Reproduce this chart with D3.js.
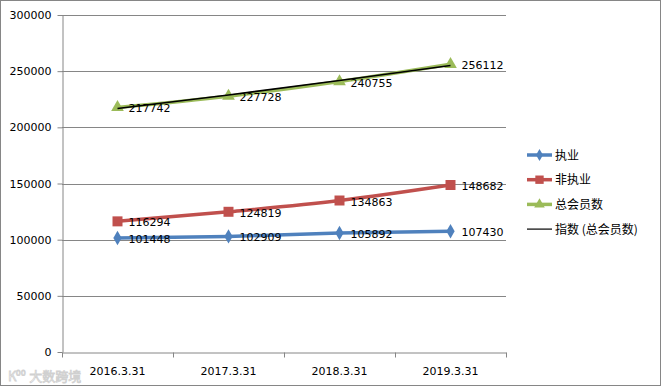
<!DOCTYPE html>
<html><head><meta charset="utf-8">
<script src="https://cdn.jsdelivr.net/npm/d3@7"></script>
<style>body{margin:0;background:#fff}svg{display:block}</style>
</head><body>
<script>
const categories = ["2016.3.31","2017.3.31","2018.3.31","2019.3.31"];
const practicing = [101448,102909,105892,107430];
const nonPracticing = [116294,124819,134863,148682];
const totalMembers = [217742,227728,240755,256112];
const yTicks = [0,50000,100000,150000,200000,250000,300000];
const seriesNames = ["执业","非执业","总会员数","指数 (总会员数)"];

const W=661,H=386;
const svg=d3.select("body").append("svg").attr("width",W).attr("height",H);
const font="DejaVu Sans, Verdana, sans-serif";
svg.append("rect").attr("x",0.5).attr("y",0.5).attr("width",W-1).attr("height",H-1).attr("fill","#fff").attr("stroke","#868686");

const x=d3.scaleBand().domain(categories).range([62,506]);
const y=d3.scaleLinear().domain([0,300000]).range([352,15]);
const cx=d=>x(d)+x.bandwidth()/2;

// gridlines
svg.append("g").selectAll("line").data(yTicks.slice(1)).join("line")
 .attr("x1",62).attr("x2",506).attr("y1",d=>Math.round(y(d))+0.5).attr("y2",d=>Math.round(y(d))+0.5)
 .attr("stroke","#868686").attr("stroke-width",1);

const ya=svg.append("g").attr("transform","translate(62.5,0)")
 .call(d3.axisLeft(y).tickValues(yTicks).tickSize(5).tickSizeOuter(0).tickFormat(d3.format("d")));
ya.selectAll("text").attr("font-family",font).attr("font-size",11).attr("fill","#000").attr("x",-11);
ya.selectAll("line,path").attr("stroke","#868686");

const xa=svg.append("g").attr("transform","translate(0,352.5)")
 .call(d3.axisBottom(x).tickSize(0).tickSizeOuter(0));
xa.selectAll("text").attr("font-family",font).attr("font-size",11).attr("fill","#000").attr("dy","0").attr("y",22);
xa.select("path").attr("stroke","#868686");
xa.append("g").selectAll("line").data(x.domain().map(d=>x(d)).concat([506])).join("line")
 .attr("x1",d=>Math.round(d)+0.5).attr("x2",d=>Math.round(d)+0.5).attr("y1",0).attr("y2",5).attr("stroke","#868686");

const line=d3.line().x((d,i)=>cx(categories[i])).y(d=>y(d)).curve(d3.curveMonotoneX);

const series=[
 {name:seriesNames[0],vals:practicing,color:"#4F81BD",sym:d3.symbolDiamond,size:60},
 {name:seriesNames[1],vals:nonPracticing,color:"#C0504D",sym:d3.symbolSquare,size:100},
 {name:seriesNames[2],vals:totalMembers,color:"#9BBB59",sym:d3.symbolTriangle,size:70}
];

series.forEach(s=>{
 svg.append("path").attr("d",line(s.vals)).attr("fill","none").attr("stroke",s.color).attr("stroke-width",3.5);
});

// exponential trendline fitted to total members
const xs=totalMembers.map((d,i)=>i+1);
const ly=totalMembers.map(Math.log);
const n=xs.length,mx=d3.mean(xs),my=d3.mean(ly);
const b=d3.sum(xs.map((v,i)=>(v-mx)*(ly[i]-my)))/d3.sum(xs.map(v=>(v-mx)*(v-mx)));
const a=my-b*mx;
const trend=xs.map(v=>Math.exp(a+b*v));

series.forEach(s=>{
 svg.append("g").selectAll("path").data(s.vals).join("path")
  .attr("transform",(d,i)=>`translate(${cx(categories[i])},${y(d)})`)
  .attr("d",d3.symbol(s.sym,s.size)).attr("fill",s.color);
});
svg.append("path").attr("d",d3.line().x((d,i)=>cx(categories[i])).y(d=>y(d))(trend))
 .attr("fill","none").attr("stroke","#000").attr("stroke-width",1.5);

series.forEach(s=>{
 svg.append("g").selectAll("text").data(s.vals).join("text")
  .attr("x",(d,i)=>cx(categories[i])+11).attr("y",d=>y(d)+5)
  .attr("font-family",font).attr("font-size",11).attr("fill","#000").text(d=>d);
});

// legend
const lg=svg.append("g");
const rows=[...series,{name:seriesNames[3],color:"#000"}];
rows.forEach((r,i)=>{
 const yy=155+i*24.7;
 lg.append("line").attr("x1",527).attr("x2",552).attr("y1",yy).attr("y2",yy)
  .attr("stroke",r.color).attr("stroke-width",r.sym?3.5:1.2);
 if(r.sym) lg.append("path").attr("transform",`translate(539.5,${yy})`).attr("d",d3.symbol(r.sym,r.size*0.7)).attr("fill",r.color);
 lg.append("text").attr("x",555).attr("y",yy+4.5).attr("font-family","Noto Sans CJK SC, sans-serif").attr("font-size",12).text(r.name);
});

// watermark
svg.append("text").attr("x",8).attr("y",381).attr("font-family","Noto Sans CJK SC, sans-serif").attr("font-size",13)
 .attr("fill","none").attr("stroke","#d0d0d0").attr("stroke-width",0.8).text("K⁰⁰ 大数跨境");
</script>
</body></html>
